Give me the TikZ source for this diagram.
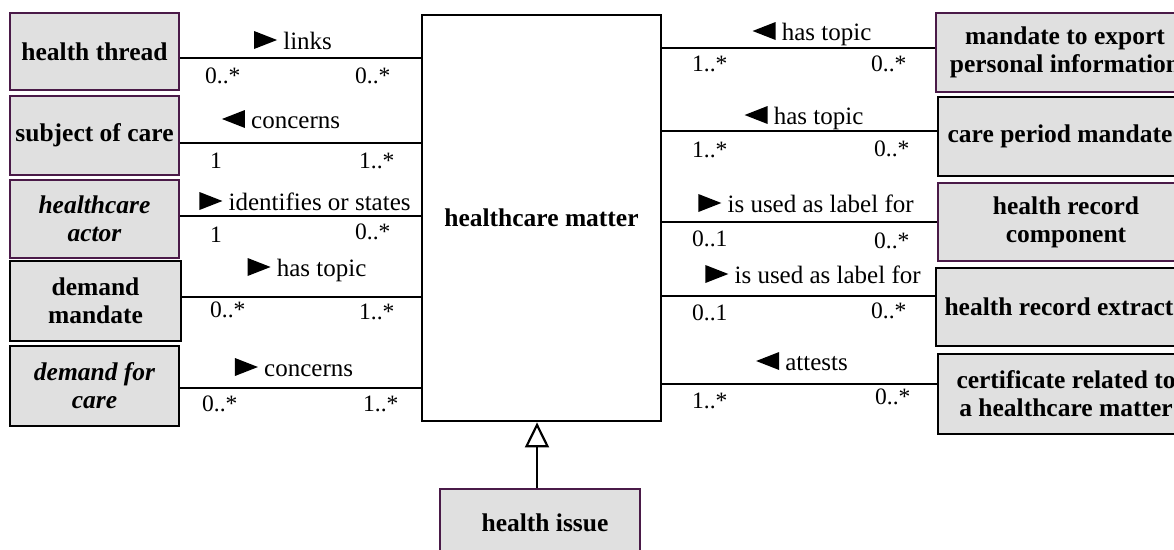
\documentclass[tikz,border=0pt]{standalone}
\usepackage{fontspec}
\setmainfont{Liberation Serif}
\usetikzlibrary{arrows.meta}
\definecolor{boxfill}{HTML}{E0E0E0}
\definecolor{plum}{HTML}{4A1A48}
% filled direction triangles for association names
\newcommand{\rtri}{\tikz[baseline=0pt]\fill (0pt,0pt)--(0pt,18pt)--(23pt,9pt)--cycle;}
\newcommand{\ltri}{\tikz[baseline=0pt]\fill (23pt,0pt)--(23pt,18pt)--(0pt,9pt)--cycle;}
% nudge a centred line a little to the left
\newcommand{\nudge}{\hspace*{-12pt}}
\begin{document}
\begin{tikzpicture}[x=1pt,y=-1pt,
  classbox/.style={draw, fill=boxfill, line width=2.7pt, inner sep=0pt, align=center,
    font=\fontsize{25.5}{28}\selectfont\bfseries},
  pbox/.style={classbox, draw=plum},
  kbox/.style={classbox, draw=black},
  abox/.style={classbox, font=\fontsize{25.5}{28}\selectfont\bfseries\itshape},
  assoc/.style={line width=2.8pt},
  gen/.style={line width=2.8pt, -{Triangle[open, length=25pt, width=24pt, line width=2.2pt]}},
  lbl/.style={anchor=base, inner sep=0pt, font=\fontsize{25}{28}\selectfont},
  mult/.style={anchor=base west, inner sep=0pt, font=\fontsize{23.5}{28}\selectfont}]
\useasboundingbox (0,0) rectangle (1174,549);
\clip (0,0) rectangle (1174,549);

% central class
\node[draw, line width=2.8pt, fill=white, minimum width=239pt, minimum height=406pt,
  inner sep=0pt, font=\fontsize{25.5}{28}\selectfont\bfseries] (hm) at (541.5,218) {healthcare matter};

% left classes
\node[pbox, minimum width=169pt, minimum height=77pt] (ht) at (94.5,51.5) {health thread};
\node[pbox, minimum width=169pt, minimum height=79pt] (soc) at (94.5,135.5) {subject of care};
\node[abox, draw=plum, minimum width=169pt, minimum height=78pt] (hca) at (94.5,219) {healthcare\\actor};
\node[kbox, minimum width=171pt, minimum height=80pt] (dm) at (95.5,301) {demand\\mandate};
\node[abox, draw=black, minimum width=169pt, minimum height=80pt] (dfc) at (94.5,386) {demand for\\care};

% right classes
\node[pbox, minimum width=258pt, minimum height=79pt] (mep) at (1065,52.5) {mandate to export\\personal information};
\node[kbox, minimum width=256pt, minimum height=79pt] (cpm) at (1066,136.5) {\nudge care period mandate};
\node[pbox, minimum width=256pt, minimum height=78pt] (hrc) at (1066,222) {health record\\component};
\node[kbox, minimum width=258pt, minimum height=78pt] (hre) at (1065,307) {\nudge health record extract};
\node[kbox, minimum width=256pt, minimum height=80pt] (cert) at (1066,394) {certificate related to\\a healthcare matter};

% specialisation
\node[pbox, minimum width=200pt, minimum height=67pt] (hi) at (540,522.5) {\kern10pt health issue};

% associations on the left
\draw[assoc] (ht.east |- 0,58) -- (hm.west |- 0,58);
\node[lbl] (l1) at (293,49) {\rtri\ links};
\node[mult] (m1a) at (205,83) {0..*};
\node[mult] (m1b) at (355,83) {0..*};

\draw[assoc] (soc.east |- 0,143) -- (hm.west |- 0,143);
\node[lbl] (l2) at (281,128) {\ltri\ concerns};
\node[mult] (m2a) at (210,168) {1};
\node[mult] (m2b) at (359,168) {1..*};

\draw[assoc] (hca.east |- 0,216) -- (hm.west |- 0,216);
\node[lbl] (l3) at (305,210) {\rtri\ identifies or states};
\node[mult] (m3a) at (210,242) {1};
\node[mult] (m3b) at (355,239) {0..*};

\draw[assoc] (dm.east |- 0,297) -- (hm.west |- 0,297);
\node[lbl] (l4) at (307,276) {\rtri\ has topic};
\node[mult] (m4a) at (210,317) {0..*};
\node[mult] (m4b) at (359,319) {1..*};

\draw[assoc] (dfc.east |- 0,388) -- (hm.west |- 0,388);
\node[lbl] (l5) at (294,376) {\rtri\ concerns};
\node[mult] (m5a) at (202,411) {0..*};
\node[mult] (m5b) at (363,411) {1..*};

% associations on the right
\draw[assoc] (hm.east |- 0,48) -- (mep.west |- 0,48);
\node[lbl] (r1) at (812,40) {\ltri\ has topic};
\node[mult] (n1a) at (692,71) {1..*};
\node[mult] (n1b) at (871,71) {0..*};

\draw[assoc] (hm.east |- 0,131) -- (cpm.west |- 0,131);
\node[lbl] (r2) at (804,124) {\ltri\ has topic};
\node[mult] (n2a) at (692,157) {1..*};
\node[mult] (n2b) at (874,156) {0..*};

\draw[assoc] (hm.east |- 0,222) -- (hrc.west |- 0,222);
\node[lbl] (r3) at (806,212) {\rtri\ is used as label for};
\node[mult] (n3a) at (692,246) {0..1};
\node[mult] (n3b) at (874,248) {0..*};

\draw[assoc] (hm.east |- 0,296) -- (hre.west |- 0,296);
\node[lbl] (r4) at (813,283) {\rtri\ is used as label for};
\node[mult] (n4a) at (692,320) {0..1};
\node[mult] (n4b) at (871,318) {0..*};

\draw[assoc] (hm.east |- 0,384) -- (cert.west |- 0,384);
\node[lbl] (r5) at (802,370) {\ltri\ attests};
\node[mult] (n5a) at (692,408) {1..*};
\node[mult] (n5b) at (875,404) {0..*};

% generalisation
\draw[gen] (hi.north -| 537,0) -- (hm.south -| 537,0);
\end{tikzpicture}
\end{document}
